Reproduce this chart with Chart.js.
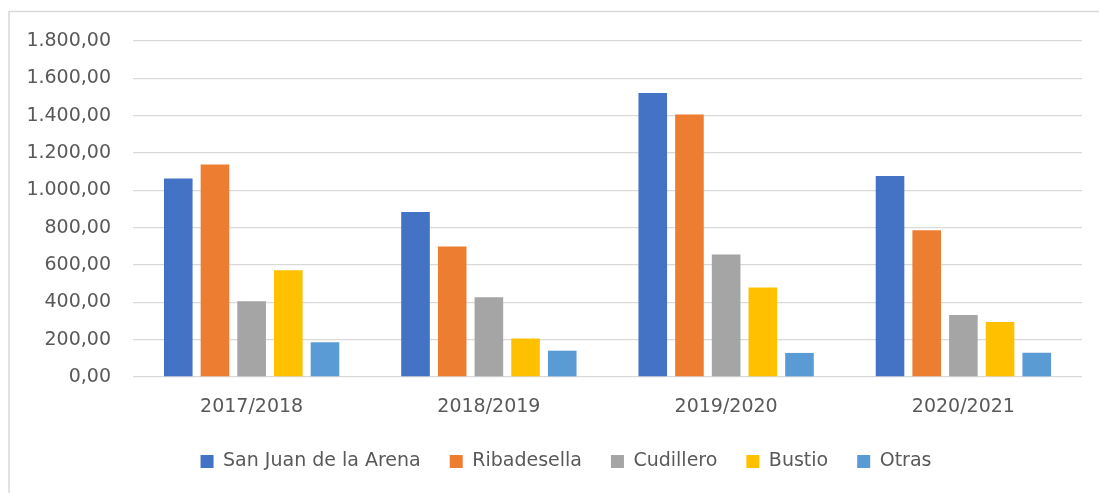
<!DOCTYPE html>
<html>
<head>
<meta charset="utf-8">
<script src="https://cdn.jsdelivr.net/npm/chart.js@4"></script>
<style>
  html,body{margin:0;padding:0;background:#fff;overflow:hidden;}
  canvas{display:block;}
</style>
</head>
<body>
<canvas id="c" width="1099" height="493"></canvas>
<script>
const categories = ['2017/2018', '2018/2019', '2019/2020', '2020/2021'];
const seriesNames = ['San Juan de la Arena', 'Ribadesella', 'Cudillero', 'Bustio', 'Otras'];
const sanJuan = [1063, 884, 1522, 1077];
const ribadesella = [1138, 699, 1406, 786];
const cudillero = [406, 427, 656, 332];
const bustio = [572, 206, 479, 295];
const otras = [186, 141, 129, 130];
const yTickLabels = ['0,00', '200,00', '400,00', '600,00', '800,00', '1.000,00', '1.200,00', '1.400,00', '1.600,00', '1.800,00'];
const colors = ['#4472C4', '#ED7D31', '#A5A5A5', '#FFC000', '#5B9BD5'];

const FONT = '"DejaVu Sans", sans-serif';
const values = [sanJuan, ribadesella, cudillero, bustio, otras];

const framePlugin = {
  id: 'frame',
  afterLayout(chart) {
    const lg = chart.legend;
    if (lg) { lg.left += 25; lg.right += 25; }
  },
  beforeDraw(chart) {
    const ctx = chart.ctx;
    ctx.save();
    ctx.fillStyle = '#ffffff';
    ctx.fillRect(0, 0, chart.width, chart.height);
    ctx.strokeStyle = '#d9d9d9';
    ctx.lineWidth = 1.5;
    ctx.beginPath();
    ctx.moveTo(9, chart.height);
    ctx.lineTo(9, 11.5);
    ctx.lineTo(chart.width, 11.5);
    ctx.stroke();
    ctx.restore();
  }
};

new Chart(document.getElementById('c'), {
  type: 'bar',
  data: {
    labels: categories,
    datasets: seriesNames.map((n, i) => ({
      label: n,
      data: values[i],
      backgroundColor: colors[i],
      borderWidth: 0,
      categoryPercentage: 0.773,
      barPercentage: 0.78
    }))
  },
  plugins: [framePlugin],
  options: {
    responsive: false,
    animation: false,
    devicePixelRatio: 1,
    layout: { padding: { left: 0, right: 17, top: 41, bottom: 12 } },
    plugins: {
      tooltip: { enabled: false },
      legend: {
        position: 'bottom',
        labels: {
          color: '#595959',
          font: { family: FONT, size: 19 },
          boxWidth: 13,
          boxHeight: 13,
          padding: 29
        }
      }
    },
    scales: {
      x: {
        grid: { display: false },
        border: { display: false },
        ticks: { color: '#595959', font: { family: FONT, size: 19 }, padding: 11 },
        afterFit: s => { s.height = 46; }
      },
      y: {
        min: 0,
        max: 1800,
        grid: { color: '#d9d9d9', lineWidth: 1.3, drawTicks: false },
        border: { display: false },
        ticks: {
          stepSize: 200,
          color: '#595959',
          font: { family: FONT, size: 19 },
          padding: 22,
          callback: (v, i) => yTickLabels[i]
        },
        afterFit: s => { s.width = 133; }
      }
    }
  }
});
</script>
</body>
</html>
